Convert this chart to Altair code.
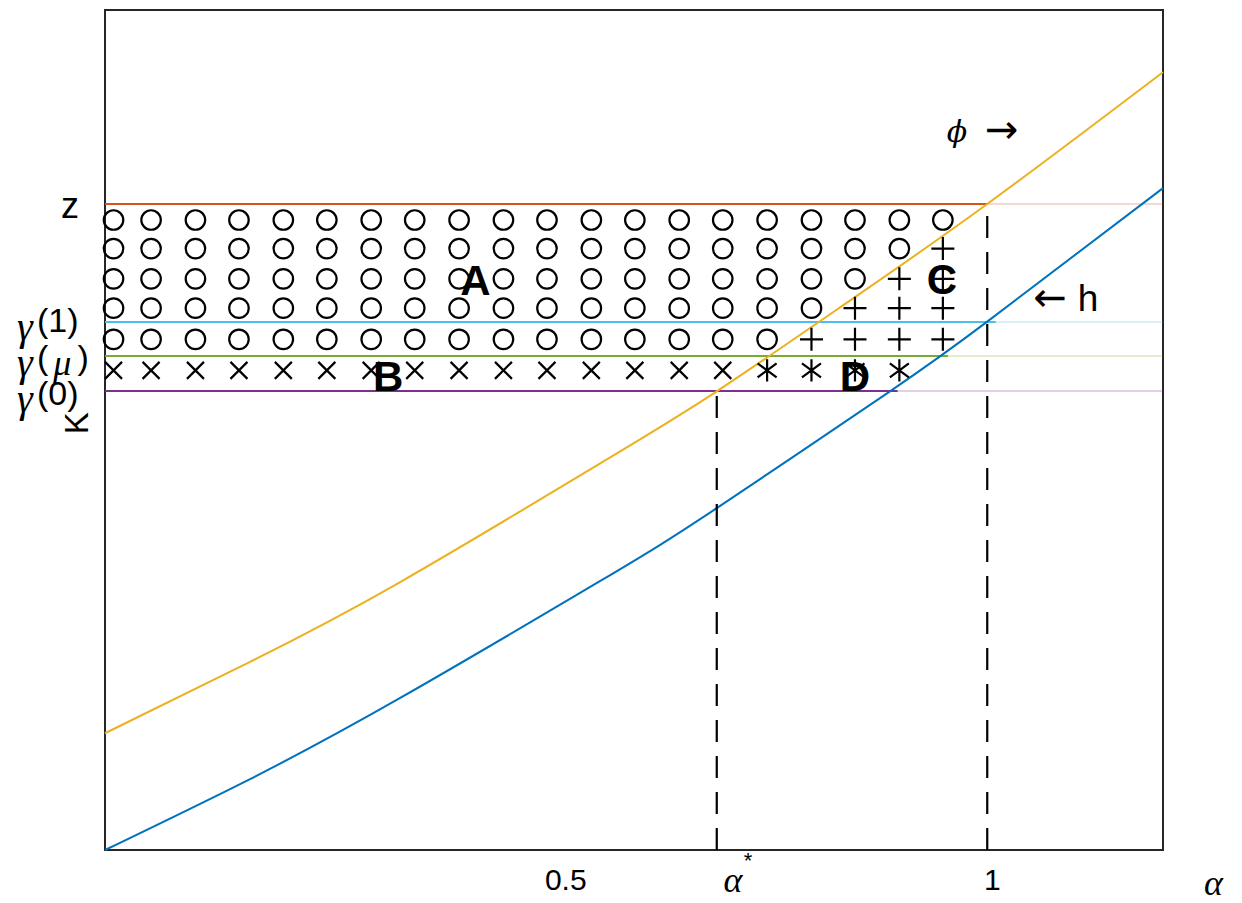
import altair as alt
import pandas as pd

# ---- data (alpha on x, K on y) ----
phi_alpha = [-0.04, 0.130, 0.306, 0.540, 0.677, 0.833, 0.994, 1.200]
phi_k = [0.139, 0.224, 0.319, 0.460, 0.546, 0.654, 0.769, 0.926]
h_alpha = [-0.04, 0.130, 0.306, 0.540, 0.677, 0.880, 0.994, 1.200]
h_k = [0.0, 0.0845, 0.181, 0.320, 0.407, 0.546, 0.629, 0.788]

level_names = ["z", "gamma1", "gammamu", "gamma0"]
level_k = [0.769, 0.6286, 0.588, 0.5464]
level_end = [0.994, 1.004, 0.948, 0.889]
level_colors = ["#D95319", "#4DBEEE", "#77AC30", "#7E2F8E"]

alpha_star = 0.677
alpha_one = 0.994

grid_alpha = [-0.03, 0.014, 0.066, 0.117, 0.169, 0.220, 0.272, 0.323, 0.375, 0.427,
              0.478, 0.530, 0.581, 0.633, 0.684, 0.736, 0.788, 0.839, 0.891, 0.942]
grid_k = [0.750, 0.716, 0.680, 0.645, 0.608, 0.571]
grid_codes = [
    "oooooooooooooooooooo",
    "ooooooooooooooooooo+",
    "oooooooooooooooooo++",
    "ooooooooooooooooo+++",
    "oooooooooooooooo++++",
    "xxxxxxxxxxxxxxx**** ",
]

region_labels = ["A", "B", "C", "D"]
region_alpha = [0.394, 0.292, 0.941, 0.839]
region_k = [0.676, 0.562, 0.677, 0.562]

x_tick_values = [0.5, 1.0]
x_tick_labels = ["0.5", "1"]

XD = [-0.04, 1.2]
YD = [0.0, 1.0]
SANS = "Liberation Sans"
SERIF = "Liberation Serif"

xs = alt.Scale(domain=XD, nice=False, zero=False)
ys = alt.Scale(domain=YD, nice=False, zero=False)
X = lambda f: alt.X(f, type="quantitative", scale=xs, axis=None)
Y = lambda f: alt.Y(f, type="quantitative", scale=ys, axis=None)

# curves
curves = pd.DataFrame(
    [{"a": a, "k": k, "s": "phi", "c": "#EDB120", "o": i} for i, (a, k) in enumerate(zip(phi_alpha, phi_k))]
    + [{"a": a, "k": k, "s": "h", "c": "#0072BD", "o": i} for i, (a, k) in enumerate(zip(h_alpha, h_k))]
)
curve_layer = alt.Chart(curves).mark_line(strokeWidth=2, interpolate="natural").encode(
    x=X("a"), y=Y("k"), detail="s:N", order="o:Q",
    color=alt.Color("c:N", scale=None),
)

# horizontal levels
lv = pd.DataFrame({"name": level_names, "k": level_k, "end": level_end, "c": level_colors})
lv["start"] = XD[0]
lv["right"] = XD[1]
level_layer = alt.Chart(lv).mark_rule(strokeWidth=2).encode(
    x=X("start"), x2="end", y=Y("k"), color=alt.Color("c:N", scale=None)
)
level_ext = alt.Chart(lv).mark_rule(strokeWidth=1.5, opacity=0.3).encode(
    x=X("end"), x2="right", y=Y("k"), color=alt.Color("c:N", scale=None)
)

# dashed verticals
dv = pd.DataFrame({"a": [alpha_star, alpha_one], "top": [level_k[3], level_k[0]], "bot": [0.0, 0.0]})
dash_layer = alt.Chart(dv).mark_rule(strokeWidth=2.2, strokeDash=[22, 14], color="black").encode(
    x=X("a"), y=Y("bot"), y2="top"
)

# markers
rows = []
for r, code in enumerate(grid_codes):
    for c, ch in enumerate(code):
        if ch != " ":
            rows.append({"a": grid_alpha[c], "k": grid_k[r], "m": ch})
mk = pd.DataFrame(rows)

def marker(ch, shape, size):
    return alt.Chart(mk).transform_filter(alt.datum.m == ch).mark_point(
        shape=shape, size=size, filled=False, stroke="black", strokeWidth=2.2, opacity=1
    ).encode(x=X("a"), y=Y("k"))

m_o = marker("o", "circle", 380)
m_plus = marker("+", "M-1,0L1,0M0,-1L0,1", 529)
m_x = marker("x", "M-1,-1L1,1M1,-1L-1,1", 289)
m_star = marker("*", "M0,-1L0,1M-0.85,-0.62L0.85,0.62M0.85,-0.62L-0.85,0.62", 500)

# region letters
rl = pd.DataFrame({"t": region_labels, "a": region_alpha, "k": region_k})
letters = alt.Chart(rl).mark_text(font=SANS, fontSize=42, fontWeight="bold", color="black").encode(
    x=X("a"), y=Y("k"), text="t:N"
)

# annotation texts
def txt(items, **kw):
    df = pd.DataFrame(items, columns=["t", "a", "k"])
    return alt.Chart(df).mark_text(color="black", **kw).encode(x=X("a"), y=Y("k"), text="t:N")

ticks = pd.DataFrame({"t": x_tick_labels, "a": x_tick_values, "k": [-0.037, -0.037]})
tick_layer = alt.Chart(ticks).mark_text(font=SANS, fontSize=30, color="black").encode(
    x=X("a"), y=Y("k"), text="t:N"
)

sans_left = txt([["(1)", -0.1197, 0.6286], ["(0)", -0.1197, 0.542], ["(", -0.1197, 0.584]],
                font=SANS, fontSize=34, align="left")
sans_right = txt([[")", -0.0590, 0.584]], font=SANS, fontSize=34, align="right")
z_lab = txt([["z", -0.081, 0.7655]], font=SANS, fontSize=36)
gam = txt([["γ", -0.1340, 0.622], ["γ", -0.1340, 0.578], ["γ", -0.1340, 0.536]],
          font=SERIF, fontSize=40, fontStyle="italic")
mu = txt([["μ", -0.0900, 0.578]], font=SERIF, fontSize=36, fontStyle="italic")
k_lab = txt([["K", -0.0716, 0.5080]], font=SANS, fontSize=33, angle=270)
alpha_lab = txt([["α", 1.259, -0.040], ["α", 0.696, -0.037]], font=SERIF, fontSize=36, fontStyle="italic")
star_lab = txt([["*", 0.7136, -0.013]], font=SANS, fontSize=22)
phi_lab = txt([["ϕ", 0.9586, 0.8536]], font="DejaVu Serif", fontSize=30, fontStyle="italic")
arrows = txt([["→", 1.011, 0.856], ["←", 1.0676, 0.656]], font="DejaVu Sans", fontSize=40)
h_lab = txt([["h", 1.112, 0.6548]], font=SANS, fontSize=37)

chart = alt.layer(
    level_ext, level_layer, curve_layer, dash_layer,
    m_o, m_plus, m_x, m_star, letters,
    tick_layer, sans_left, sans_right, z_lab, gam, mu, k_lab,
    alpha_lab, star_lab, phi_lab, arrows, h_lab,
).properties(
    width=1058, height=840,
    padding={"left": 97, "top": 2, "right": 71, "bottom": 52},
    autosize=alt.AutoSizeParams(type="none"),
    background="white",
).configure_view(
    stroke="#262626", strokeWidth=2
)

chart.save("out.html", embed_options={"renderer": "svg", "actions": False})
